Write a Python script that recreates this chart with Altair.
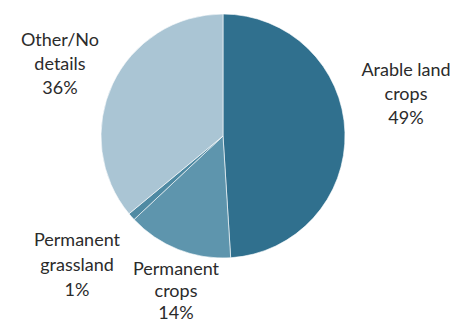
import altair as alt
import pandas as pd

categories = ["Arable land crops", "Permanent crops", "Permanent grassland", "Other/No details"]
label_lines = [["Arable land", "crops"], ["Permanent", "crops"], ["Permanent", "grassland"], ["Other/No", "details"]]
values = [49, 14, 1, 36]
colors = ["#30708e", "#5e95ad", "#4f8aa3", "#aac5d4"]

df = pd.DataFrame({
    "category": categories,
    "value": values,
    "order": list(range(len(categories))),
    "label": ["\n".join(l + [f"{v}%"]) for l, v in zip(label_lines, values)],
})

CX, CY, R = 215, 128, 122

pie = alt.Chart(df).mark_arc(stroke="white", strokeWidth=0.6).encode(
    theta=alt.Theta("value:Q", stack=True),
    order=alt.Order("order:Q"),
    color=alt.Color("category:N", scale=alt.Scale(domain=categories, range=colors), legend=None),
    x=alt.value(CX),
    y=alt.value(CY),
    radius=alt.value(R),
)

# label anchor (x, y, line height)
label_pos = {
    "Arable land crops": (398, 54, 24),
    "Other/No details": (52, 24, 24),
    "Permanent grassland": (69, 224, 25),
    "Permanent crops": (168, 253, 22),
}

layers = [pie]
for cat, (lx, ly, lh) in label_pos.items():
    layers.append(
        alt.Chart(df).transform_filter(alt.datum.category == cat).mark_text(
            font="Lato", fontSize=18, color="#2b2b2b", align="center", baseline="top",
            lineBreak="\n", lineHeight=lh,
        ).encode(text="label:N", x=alt.value(lx), y=alt.value(ly))
    )

chart = alt.layer(*layers).properties(
    width=443, height=318, padding=0, autosize=alt.AutoSizeParams(type="none")
).configure_view(stroke=None)

chart.save("out.html", embed_options={"renderer": "svg", "actions": False})
